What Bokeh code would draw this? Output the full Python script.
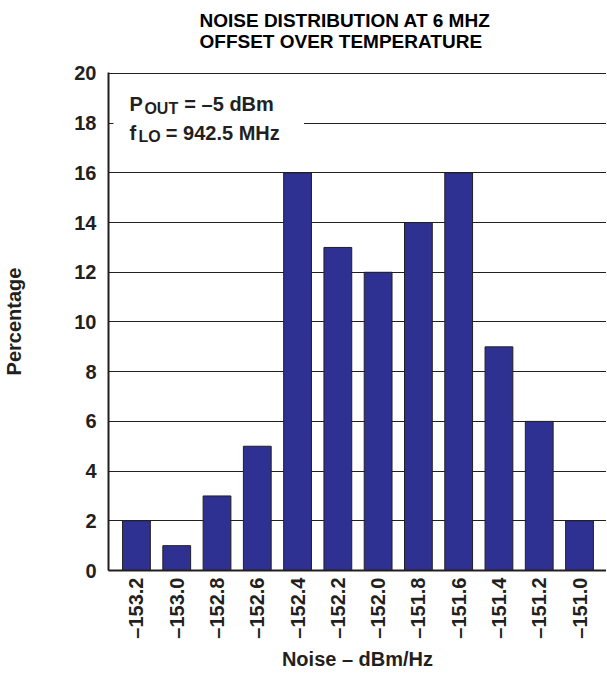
import math
from bokeh.plotting import figure
from bokeh.models import Range1d, FixedTicker, Label, Title
from bokeh.embed import file_html
from bokeh.resources import INLINE

categories = ["\u2013153.2", "\u2013153.0", "\u2013152.8", "\u2013152.6", "\u2013152.4", "\u2013152.2",
              "\u2013152.0", "\u2013151.8", "\u2013151.6", "\u2013151.4", "\u2013151.2", "\u2013151.0"]
percentage = [2, 1, 3, 5, 16, 13, 12, 14, 16, 9, 6, 2]
y_ticks = [0, 2, 4, 6, 8, 10, 12, 14, 16, 18, 20]
title_lines = ["NOISE DISTRIBUTION AT 6 MHZ", "OFFSET OVER TEMPERATURE"]

FONT = "Liberation Sans"
BAR = "#2E3192"
INK = "#231F20"

idx = list(range(len(categories)))

p = figure(width=606, height=672, output_backend="svg", toolbar_location=None,
           x_range=Range1d(-0.694, 11.67), y_range=Range1d(0, 20.04),
           min_border_left=107, min_border_right=0, min_border_top=72, min_border_bottom=100)
p.outline_line_color = None
p.background_fill_color = "white"

# white box behind annotation text (covers gridline at 18)
p.quad(left=[-0.694], right=[4.16], bottom=[16.6], top=[19.7], fill_color="white", line_color=None)

p.vbar(x=idx, top=percentage, width=0.69, fill_color=BAR, line_color=INK, line_width=1)

p.xgrid.visible = False
p.ygrid.ticker = FixedTicker(ticks=y_ticks)
p.ygrid.grid_line_color = INK
p.ygrid.grid_line_width = 1

p.yaxis.ticker = FixedTicker(ticks=y_ticks)
p.xaxis.ticker = FixedTicker(ticks=idx)
p.xaxis.major_label_overrides = {i: c for i, c in enumerate(categories)}
p.xaxis.major_label_orientation = math.pi / 2

for ax in (p.xaxis[0], p.yaxis[0]):
    ax.axis_line_color = INK
    ax.axis_line_width = 2
    ax.minor_tick_line_color = None
    ax.major_label_text_font = FONT
    ax.major_label_text_font_style = "bold"
    ax.major_label_text_font_size = "20px"
    ax.major_label_text_color = INK
    ax.axis_label_text_font = FONT
    ax.axis_label_text_font_style = "bold"
    ax.axis_label_text_font_size = "20px"
    ax.axis_label_text_color = INK

p.yaxis.major_tick_in = 5
p.yaxis.major_tick_out = 0
p.yaxis.major_tick_line_color = INK
p.yaxis.major_label_standoff = 12
p.yaxis.axis_label = "Percentage"
p.yaxis.axis_label_standoff = 46

p.xaxis.major_tick_in = 0
p.xaxis.major_tick_out = 0
p.xaxis.major_label_standoff = 7
p.xaxis.axis_label = "Noise \u2013 dBm/Hz"
p.xaxis.axis_label_standoff = 6

# blank spacer between the title and the plot, then the two-line title
spacer = Title(text=" ", standoff=2, text_font=FONT, text_font_size="16px")
main_title = Title(text="\n".join(title_lines), align="left", offset=91, standoff=0,
                   text_line_height=1.0, text_font=FONT, text_font_style="bold",
                   text_font_size="19px", text_color="black")
p.add_layout(spacer, "above")
p.add_layout(main_title, "above")

def lab(x, y, t, size):
    p.add_layout(Label(x=x, y=y, text=t, text_font=FONT, text_font_style="bold",
                       text_font_size=size, text_color=INK, text_baseline="alphabetic"))

lab(-0.174, 18.76, "P", "20px")
lab(0.198, 18.6, "OUT", "16px")
lab(1.189, 18.76, "= \u20135 dBm", "20px")
lab(-0.174, 17.6, "f", "20px")
lab(0.049, 17.48, "LO", "16px")
lab(0.73, 17.6, "= 942.5 MHz", "20px")

open("out.html", "w").write(file_html(p, INLINE))
